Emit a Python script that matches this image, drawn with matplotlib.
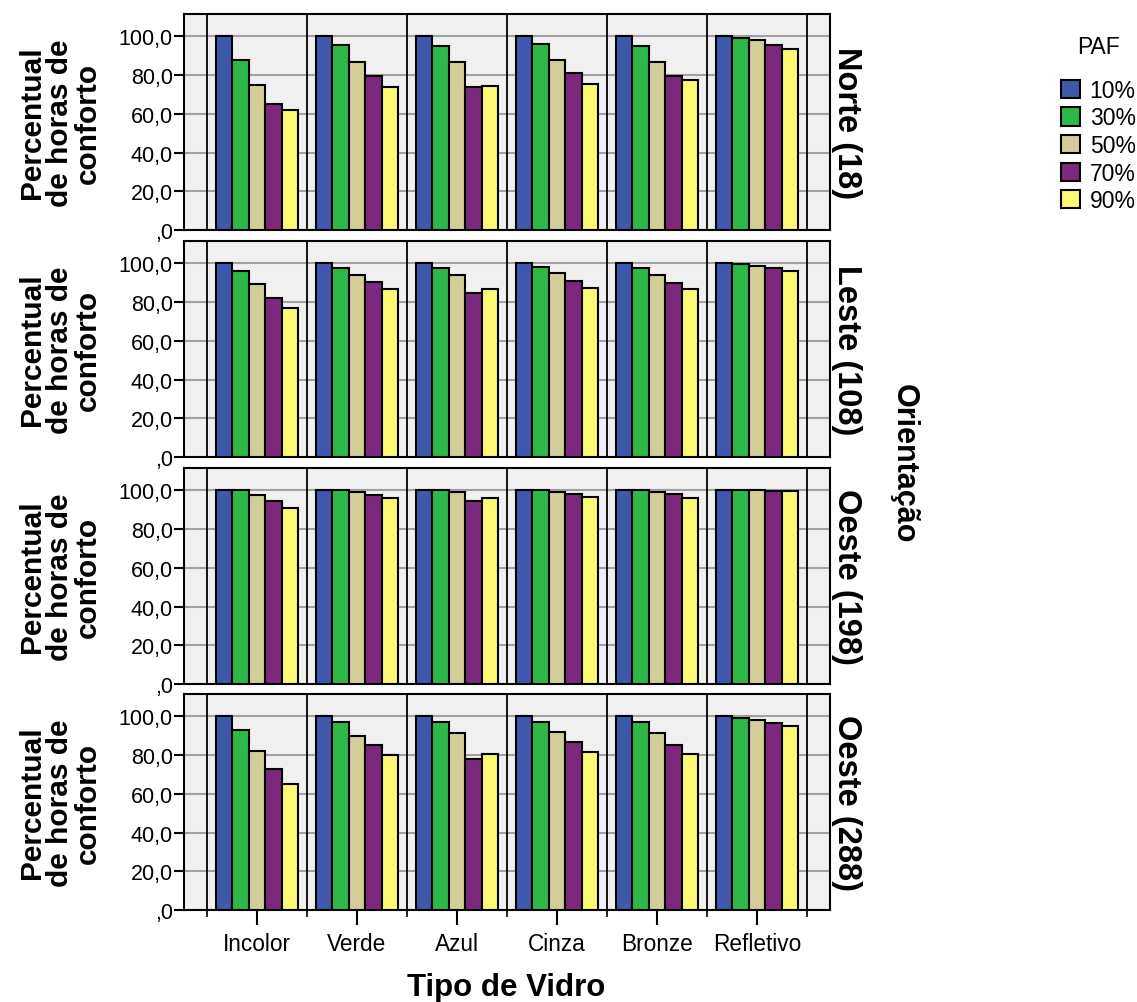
import numpy as np
import matplotlib
matplotlib.use("Agg")
import matplotlib.pyplot as plt
from matplotlib.patches import Patch

plt.rcParams['font.family'] = ['Liberation Sans', 'DejaVu Sans']

tipos = ["Incolor", "Verde", "Azul", "Cinza", "Bronze", "Refletivo"]
paf_labels = ["10%", "30%", "50%", "70%", "90%"]
orientacoes = ["Norte (18)", "Leste (108)", "Oeste (198)", "Oeste (288)"]

# percentual de horas de conforto, one row per PAF, one column per tipo de vidro
norte = [
    [100.0, 100.0, 100.0, 100.0, 100.0, 100.0],
    [88.0, 95.3, 95.0, 95.8, 95.1, 99.3],
    [75.0, 86.5, 86.8, 87.5, 86.7, 97.9],
    [65.0, 79.5, 74.0, 80.9, 79.7, 95.5],
    [62.0, 73.7, 74.2, 75.6, 77.6, 93.4],
]
leste = [
    [100.0, 100.0, 100.0, 100.0, 100.0, 100.0],
    [96.2, 97.7, 97.7, 98.1, 97.7, 99.6],
    [89.1, 94.1, 94.1, 94.8, 94.1, 98.6],
    [82.1, 90.1, 84.6, 91.0, 90.0, 97.4],
    [77.0, 86.7, 86.7, 87.3, 86.7, 96.0],
]
oeste198 = [
    [100.0, 100.0, 100.0, 100.0, 100.0, 100.0],
    [100.0, 100.0, 100.0, 100.0, 100.0, 100.0],
    [97.8, 99.3, 99.3, 99.3, 99.3, 100.0],
    [94.3, 97.8, 94.6, 98.1, 98.0, 99.8],
    [90.8, 96.1, 96.1, 96.6, 96.1, 99.5],
]
oeste288 = [
    [100.0, 100.0, 100.0, 100.0, 100.0, 100.0],
    [93.1, 96.9, 96.9, 97.1, 96.9, 99.3],
    [82.3, 89.9, 91.2, 91.7, 91.2, 97.9],
    [72.6, 85.4, 78.0, 86.5, 85.4, 96.5],
    [65.0, 80.1, 80.4, 81.6, 80.4, 94.8],
]
panels = [norte, leste, oeste198, oeste288]

colors = ["#3E58AC", "#2EB848", "#D3CE97", "#7C287D", "#FBF873"]

W, H = 1137, 1003
fig = plt.figure(figsize=(W / 100, H / 100), dpi=100)

ax_left = 184 / W
ax_width = 646 / W
tops = [15, 242, 469, 695]
ax_h = 216

x = np.arange(len(tipos))
bw = 0.164
yticks = [0, 20, 40, 60, 80, 100]
ytick_labels = [",0", "20,0", "40,0", "60,0", "80,0", "100,0"]

for k, (vals, name) in enumerate(zip(panels, orientacoes)):
    bottom = 1 - (tops[k] + ax_h) / H
    ax = fig.add_axes([ax_left, bottom, ax_width, ax_h / H])
    ax.set_facecolor("#F0F0F0")
    for i, row in enumerate(vals):
        ax.bar(x + (i - 2) * bw, row, width=bw, color=colors[i],
               edgecolor="black", linewidth=1.5, zorder=3)
    ax.set_xlim(-0.73, 5.73)
    ax.set_ylim(0, 111.5)
    ax.set_yticks(yticks)
    ax.set_yticklabels(ytick_labels, fontsize=15.5)
    for yv in yticks[1:]:
        ax.axhline(yv, color="#A0A0A0", linewidth=1.5, zorder=1)
    for b in np.arange(-0.5, 6.0, 1.0):
        ax.axvline(b, color="black", linewidth=1.3, zorder=2)
    ax.tick_params(axis="y", length=7, width=1.5, pad=1)
    for s in ax.spines.values():
        s.set_linewidth(1.5)
    ax.set_xticks(x)
    ax.set_xticks(np.arange(-0.5, 6.0, 1.0), minor=True)
    if k == 3:
        ax.set_xticklabels(tipos, fontsize=16.3)
        ax.tick_params(axis="x", which="major", length=11, width=1.5, pad=5)
        ax.tick_params(axis="x", which="minor", length=5, width=1.2)
    else:
        ax.set_xticklabels([])
        ax.tick_params(axis="x", which="both", length=0)
    yc = 1 - (tops[k] + ax_h / 2) / H
    fig.text(60 / W, yc, "Percentual\nde horas de\nconforto", rotation=90,
             ha="center", va="center", multialignment="center",
             fontsize=21.5, fontweight="bold", linespacing=0.98)
    fig.text(846 / W, yc, name, rotation=-90, ha="center", va="center",
             fontsize=23.5, fontweight="bold")

fig.text(904 / W, 1 - 464 / H, "Orientação", rotation=-90, ha="center",
         va="center", fontsize=22, fontweight="bold")
fig.text(506 / W, 1 - 988 / H, "Tipo de Vidro", ha="center", va="center",
         fontsize=22.5, fontweight="bold")

handles = [Patch(facecolor=c, edgecolor="black", linewidth=1.5) for c in colors]
leg = fig.legend(handles, paf_labels, title="PAF", loc="upper left",
                 bbox_to_anchor=(1061 / W, 1 - 36 / H), frameon=False,
                 fontsize=16.5, title_fontsize=16.5, handlelength=0.85,
                 handleheight=0.85, handletextpad=0.4, labelspacing=0.2,
                 borderaxespad=0, borderpad=0)
leg._legend_box.sep = 15

fig.savefig("out.png", dpi=100)
